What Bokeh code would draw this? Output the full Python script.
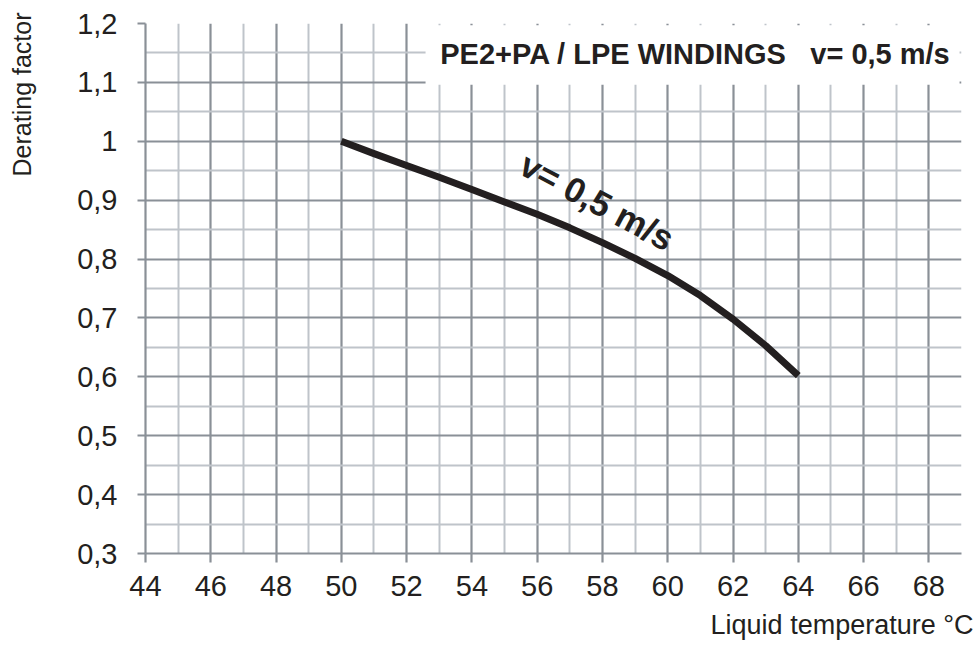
import math
from bokeh.plotting import figure
from bokeh.layouts import row
from bokeh.models import FixedTicker, Label, Range1d, Title
from bokeh.embed import file_html
from bokeh.resources import INLINE

# ---- data ----
temperature = [50, 51, 52, 53, 54, 55, 56, 57, 58, 59, 60, 61, 62, 63, 64]
derating = [1.0, 0.979, 0.959, 0.939, 0.918, 0.897, 0.876, 0.853, 0.828,
            0.801, 0.772, 0.738, 0.698, 0.653, 0.602]

x_ticks = [44, 46, 48, 50, 52, 54, 56, 58, 60, 62, 64, 66, 68]
x_minor_ticks = [45, 47, 49, 51, 53, 55, 57, 59, 61, 63, 65, 67, 69]
y_ticks = [0.3, 0.4, 0.5, 0.6, 0.7, 0.8, 0.9, 1.0, 1.1, 1.2]
y_tick_labels = ["0,3", "0,4", "0,5", "0,6", "0,7", "0,8", "0,9", "1", "1,1", "1,2"]
y_minor_ticks = [0.35, 0.45, 0.55, 0.65, 0.75, 0.85, 0.95, 1.05, 1.15]

title_main = "PE2+PA / LPE WINDINGS"
title_speed = "v= 0,5 m/s"
curve_label = "v= 0,5 m/s"
x_label = "Liquid temperature °C"
y_label = "Derating factor"

# ---- styles ----
FONT = "Liberation Sans"
TEXT = "#231f20"
MAJOR = "#8a9097"
MINOR = "#bfc4ca"
H = 652
LAB_W = 60

# narrow strip holding the vertical axis title (placed near the top)
lab = figure(width=LAB_W, height=H, output_backend="svg", toolbar_location=None,
             title_location=None,
             x_range=Range1d(0, 1), y_range=Range1d(0, 1),
             x_axis_location=None, y_axis_location=None,
             min_border_left=0, min_border_right=0, min_border_top=23,
             min_border_bottom=99)
lab.outline_line_color = None
lab.xgrid.visible = False
lab.ygrid.visible = False
lab.background_fill_color = "white"
lab.border_fill_color = "white"
lab.add_layout(Title(text=y_label, align="right", vertical_align="top",
                     text_font=FONT, text_font_size="25px",
                     text_font_style="normal", text_color=TEXT,
                     standoff=15, offset=-11), "left")

p = figure(width=979 - LAB_W, height=H, output_backend="svg",
           toolbar_location=None,
           x_range=Range1d(44, 69), y_range=Range1d(0.3, 1.2),
           min_border_left=145 - LAB_W, min_border_right=18, min_border_top=23,
           min_border_bottom=99)
p.background_fill_color = "white"
p.border_fill_color = "white"
p.outline_line_color = None

p.xaxis.ticker = FixedTicker(ticks=x_ticks, minor_ticks=x_minor_ticks)
p.yaxis.ticker = FixedTicker(ticks=y_ticks, minor_ticks=y_minor_ticks)
p.yaxis.major_label_overrides = dict(zip(y_ticks, y_tick_labels))

for ax in (p.xaxis, p.yaxis):
    ax.axis_line_color = MAJOR
    ax.axis_line_width = 2.2
    ax.major_tick_line_color = MAJOR
    ax.major_tick_line_width = 2.2
    ax.major_tick_in = 0
    ax.minor_tick_in = 0
    ax.minor_tick_out = 0
    ax.major_label_text_font = FONT
    ax.major_label_text_font_size = "29px"
    ax.major_label_text_color = TEXT
p.xaxis.major_tick_out = 9
p.yaxis.major_tick_out = 8
p.xaxis.major_label_standoff = 13
p.yaxis.major_label_standoff = 20

for g in (p.xgrid, p.ygrid):
    g.grid_line_color = MAJOR
    g.grid_line_width = 2.2
    g.minor_grid_line_color = MINOR
    g.minor_grid_line_width = 2.0

# horizontal axis title, right-aligned under the axis
p.add_layout(Title(text=x_label, align="right", text_font=FONT,
                   text_font_size="27px", text_font_style="normal",
                   text_color=TEXT, standoff=19, offset=-12), "below")

# white title box over the grid
p.quad(left=[52.58], right=[68.94], bottom=[1.096], top=[1.197],
       fill_color="white", line_color=None)

p.line(temperature, derating, line_color=TEXT, line_width=7, line_join="round")

p.add_layout(Label(x=53.03, y=1.149, text=title_main, text_font=FONT,
                   text_font_size="29px", text_font_style="bold",
                   text_color=TEXT, text_baseline="middle", text_align="left"))
p.add_layout(Label(x=68.64, y=1.149, text=title_speed, text_font=FONT,
                   text_font_size="29px", text_font_style="bold",
                   text_color=TEXT, text_baseline="middle", text_align="right"))
p.add_layout(Label(x=57.84, y=0.898, text=curve_label, text_font=FONT,
                   text_font_size="35px", text_font_style="bold",
                   text_color=TEXT, text_baseline="middle", text_align="center",
                   angle=-28 * math.pi / 180))

layout = row(lab, p)
open("out.html", "w").write(file_html(layout, INLINE))
